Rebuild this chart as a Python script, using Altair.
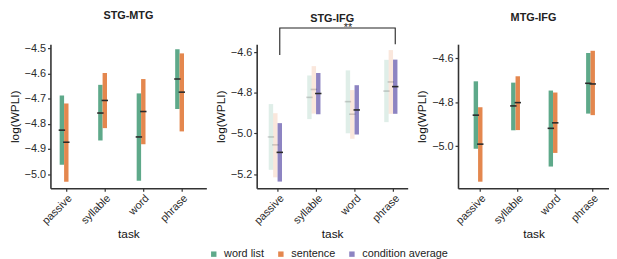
import altair as alt
import pandas as pd

tasks = ["passive", "syllable", "word", "phrase"]
conditions = ["word list", "sentence", "condition average"]
colors = ["#5ea98a", "#e4874e", "#8d84c2"]

# STG-MTG
mtg_wl_low = [-4.962, -4.866, -5.026, -4.741]
mtg_wl_high = [-4.687, -4.645, -4.679, -4.504]
mtg_wl_med = [-4.825, -4.757, -4.852, -4.622]
mtg_se_low = [-5.030, -4.817, -4.881, -4.830]
mtg_se_high = [-4.719, -4.598, -4.622, -4.520]
mtg_se_med = [-4.873, -4.707, -4.751, -4.674]

# STG-IFG
ifg_wl_low = [-5.179, -4.929, -4.999, -4.944]
ifg_wl_high = [-4.855, -4.714, -4.689, -4.637]
ifg_wl_med = [-5.017, -4.822, -4.843, -4.791]
ifg_se_low = [-5.216, -4.902, -5.026, -4.903]
ifg_se_high = [-4.900, -4.668, -4.786, -4.589]
ifg_se_med = [-5.056, -4.783, -4.905, -4.746]
ifg_av_low = [-5.237, -4.905, -5.005, -4.903]
ifg_av_high = [-4.949, -4.702, -4.762, -4.636]
ifg_av_med = [-5.093, -4.803, -4.884, -4.769]

# MTG-IFG
mi_wl_low = [-5.012, -4.928, -5.093, -4.852]
mi_wl_high = [-4.705, -4.711, -4.747, -4.576]
mi_wl_med = [-4.859, -4.817, -4.919, -4.714]
mi_se_low = [-5.162, -4.927, -5.031, -4.859]
mi_se_high = [-4.823, -4.682, -4.756, -4.566]
mi_se_med = [-4.991, -4.802, -4.894, -4.717]

# significance bracket (STG-IFG): passive vs phrase
br_tasks = ["passive", "passive", "phrase", "phrase"]
br_y = [-4.613, -4.480, -4.480, -4.560]
sig_label = "**"

FONT = "Liberation Sans"
DARK = "#333333"


def frame(cond, low, high, med, op):
    return pd.DataFrame({"task": tasks, "condition": cond, "low": low,
                         "high": high, "med": med, "op": op})


legend = alt.Legend(orient="none", direction="horizontal", title=None,
                    legendX=160, legendY=207, symbolType="square",
                    symbolSize=30, symbolStrokeWidth=0, labelFontSize=11,
                    labelFont=FONT, labelColor="#222222", columnPadding=11,
                    labelOffset=5)


def panel(df, title, domain, ticks, conds, W, pI, pO, align, toff=22, extra=None):
    x = alt.X("task:N",
              scale=alt.Scale(domain=tasks, paddingInner=pI, paddingOuter=pO, align=align),
              axis=alt.Axis(title="task", labelAngle=315, labelAlign="right",
                            labelBaseline="top", labelPadding=1, titlePadding=3))
    xo = alt.XOffset("condition:N",
                     scale=alt.Scale(domain=conds, paddingInner=0, paddingOuter=0))
    ysc = alt.Scale(domain=domain, nice=False, zero=False)
    yax = alt.Axis(values=ticks, format=".1f", title="log(WPLI)", titlePadding=3)
    base = alt.Chart(df)
    bars = base.mark_bar().encode(
        x=x, xOffset=xo,
        y=alt.Y("low:Q", scale=ysc, axis=yax), y2="high:Q",
        color=alt.Color("condition:N", scale=alt.Scale(domain=conditions, range=colors),
                        legend=legend),
        opacity=alt.Opacity("op:Q", scale=None),
    )
    meds = base.mark_tick(size=6.5, thickness=1.6, color="#2a2a2a").encode(
        x=x, xOffset=xo,
        y=alt.Y("med:Q", scale=ysc, axis=yax),
        opacity=alt.Opacity("op:Q", scale=None),
    )
    layers = [bars, meds]
    if extra is not None:
        layers += extra(x, xo, ysc, yax)
    return alt.layer(*layers).properties(
        width=W, height=146,
        title=alt.TitleParams(title, fontSize=11, fontWeight="bold", font=FONT,
                              anchor="middle", offset=toff, color="#222222"))


def bracket(x, xo, ysc, yax):
    bdf = pd.DataFrame({"task": br_tasks, "condition": ["condition average"] * 4,
                        "yv": br_y, "ord": [0, 1, 2, 3]})
    line = alt.Chart(bdf).mark_line(color="#222222", strokeWidth=1.1).encode(
        x=x, xOffset=xo, y=alt.Y("yv:Q", scale=ysc, axis=yax), order="ord:Q")
    sdf = pd.DataFrame({"task": ["word"], "condition": ["word list"],
                        "yv": [br_y[1]], "lab": [sig_label]})
    stars = alt.Chart(sdf).mark_text(fontSize=11, font=FONT, baseline="alphabetic",
                                     dy=3, color="#222222").encode(
        x=x, xOffset=xo, y=alt.Y("yv:Q", scale=ysc, axis=yax), text="lab:N")
    return [line, stars]


df1 = pd.concat([frame("word list", mtg_wl_low, mtg_wl_high, mtg_wl_med, 1.0),
                 frame("sentence", mtg_se_low, mtg_se_high, mtg_se_med, 1.0)])
df2 = pd.concat([frame("word list", ifg_wl_low, ifg_wl_high, ifg_wl_med, 0.2),
                 frame("sentence", ifg_se_low, ifg_se_high, ifg_se_med, 0.2),
                 frame("condition average", ifg_av_low, ifg_av_high, ifg_av_med, 1.0)])
df3 = pd.concat([frame("word list", mi_wl_low, mi_wl_high, mi_wl_med, 1.0),
                 frame("sentence", mi_se_low, mi_se_high, mi_se_med, 1.0)])

p1 = panel(df1, "STG-MTG", [-5.056, -4.4835], [-5.0, -4.9, -4.8, -4.7, -4.6, -4.5],
           conditions[:2], 158, 0.656, 0.353, 0.34)
p2 = panel(df2, "STG-IFG", [-5.27, -4.56], [-5.2, -5.0, -4.8, -4.6],
           conditions, 153, 0.5, 0.2115, 0.74, toff=-2, extra=bracket)
p3 = panel(df3, "MTG-IFG", [-5.192, -4.536], [-5.0, -4.8, -4.6],
           conditions[:2], 153, 0.656, 0.342, 0.61)

chart = alt.hconcat(p1, p2, p3, spacing=51, bounds="flush", padding=0).configure(
    font=FONT
).configure_view(stroke=None).configure_axis(
    grid=False, domainColor=DARK, domainWidth=1.6, tickColor=DARK, tickSize=3,
    tickWidth=1.2, labelColor="#2a2a2a", labelFontSize=11, labelFont=FONT,
    titleFontSize=12, titleFont=FONT, titleFontWeight="normal", titleColor="#111111",
    labelPadding=2,
)

chart.save("out.html", embed_options={"renderer": "svg", "actions": False})
